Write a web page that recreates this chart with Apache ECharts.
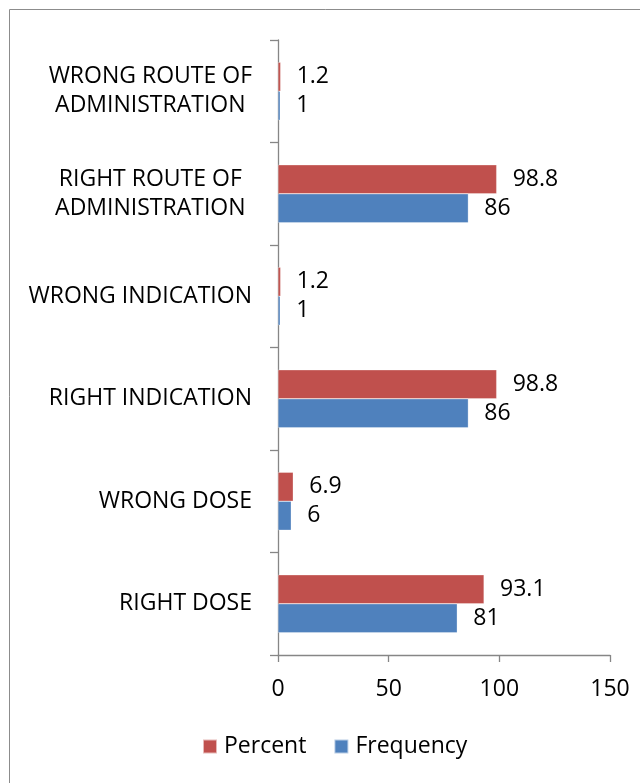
<!DOCTYPE html>
<html>
<head>
<meta charset="utf-8">
<script src="https://cdn.jsdelivr.net/npm/echarts@6/dist/echarts.min.js"></script>
<style>
  html, body { margin: 0; padding: 0; background: #fff; }
  #chart { width: 640px; height: 783px; }
</style>
</head>
<body>
<div id="chart"></div>
<script>
// Categories listed bottom to top (category axis starts at the bottom)
const categories = [
  'RIGHT DOSE',
  'WRONG DOSE',
  'RIGHT INDICATION',
  'WRONG INDICATION',
  'RIGHT ROUTE OF\nADMINISTRATION',
  'WRONG ROUTE OF\nADMINISTRATION'
];
const frequency = [81, 6, 86, 1, 86, 1];
const percent = [93.1, 6.9, 98.8, 1.2, 98.8, 1.2];
const xTicks = [0, 50, 100, 150];

const FONT = 'Open Sans';
const FS = 23;
const RED = '#C0504D';
const BLUE = '#4F81BD';
const AXIS = '#868686';

// width of the widest wrapped line, so multi-line labels center their lines
const ctx = document.createElement('canvas').getContext('2d');
ctx.font = FS + 'px "' + FONT + '"';
let wrapWidth = 0;
categories.forEach(c => {
  const parts = c.split('\n');
  if (parts.length > 1) parts.forEach(p => { wrapWidth = Math.max(wrapWidth, ctx.measureText(p).width); });
});

const chart = echarts.init(document.getElementById('chart'));
chart.setOption({
  animation: false,
  textStyle: { fontFamily: FONT },
  graphic: [{
    type: 'rect',
    shape: { x: 9.5, y: 9.5, width: 700, height: 900 },
    style: { fill: 'none', stroke: '#8c8c8c', lineWidth: 1 },
    silent: true
  }],
  legend: {
    data: ['Percent', 'Frequency'],
    left: 202,
    top: 735,
    padding: 0,
    itemWidth: 14,
    itemHeight: 14,
    itemGap: 27,
    icon: 'rect',
    textStyle: { fontFamily: FONT, fontSize: FS, color: '#000', padding: [0, 0, 0, 2] }
  },
  grid: { left: 278, right: 30, top: 40, bottom: 128, containLabel: false },
  xAxis: {
    type: 'value',
    min: xTicks[0],
    max: xTicks[xTicks.length - 1],
    interval: xTicks[1] - xTicks[0],
    splitLine: { show: false },
    axisLine: { show: true, lineStyle: { color: AXIS, width: 1.3 } },
    axisTick: { show: true, length: 7, lineStyle: { color: AXIS, width: 1.3 } },
    axisLabel: { fontFamily: FONT, fontSize: FS, color: '#000', margin: 23 }
  },
  yAxis: {
    type: 'category',
    data: categories,
    axisLine: { show: true, lineStyle: { color: AXIS, width: 1.3 } },
    axisTick: { show: true, length: 8, lineStyle: { color: AXIS, width: 1.3 } },
    axisLabel: {
      fontFamily: FONT, fontSize: FS, color: '#000', margin: 26, lineHeight: 29,
      formatter: v => {
        const parts = v.split('\n');
        if (parts.length === 1) return v;
        return parts.map(p => '{m|' + p + '}').join('\n');
      },
      rich: {
        m: { width: wrapWidth, align: 'center', fontFamily: FONT, fontSize: FS, color: '#000', lineHeight: 29 }
      }
    }
  },
  series: [
    {
      name: 'Percent',
      type: 'bar',
      data: percent,
      barWidth: 29,
      barGap: '0%',
      itemStyle: { color: RED, borderColor: 'rgba(255,255,255,0.6)', borderWidth: 0.5 },
      label: { show: true, position: 'right', distance: 16, fontFamily: FONT, fontSize: FS, color: '#000' }
    },
    {
      name: 'Frequency',
      type: 'bar',
      data: frequency,
      barWidth: 29,
      barGap: '0%',
      itemStyle: { color: BLUE, borderColor: 'rgba(255,255,255,0.6)', borderWidth: 0.5 },
      label: { show: true, position: 'right', distance: 16, fontFamily: FONT, fontSize: FS, color: '#000' }
    }
  ]
});
</script>
</body>
</html>
